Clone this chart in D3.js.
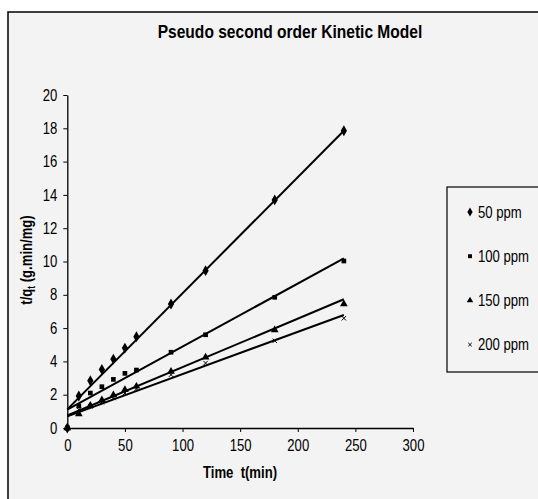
<!DOCTYPE html>
<html>
<head>
<meta charset="utf-8">
<script src="https://cdn.jsdelivr.net/npm/d3@7"></script>
<style>
  body { margin: 0; background: #ffffff; }
  svg { display: block; font-family: "Liberation Sans", Arial, sans-serif; }
</style>
</head>
<body>
<div id="chart"></div>
<script>
// data
const times = [0, 10, 20, 30, 40, 50, 60, 90, 120, 180, 240];
const seriesNames = ["50 ppm", "100 ppm", "150 ppm", "200 ppm"];
const ppm50 = [0, 1.92, 2.84, 3.52, 4.14, 4.8, 5.48, 7.45, 9.45, 13.7, 17.85];
const ppm100 = [0, 1.32, 2.1, 2.48, 2.92, 3.28, 3.48, 4.55, 5.6, 7.85, 10.03];
const ppm150 = [0, 0.84, 1.36, 1.68, 1.98, 2.3, 2.5, 3.4, 4.25, 5.89, 7.45];
const ppm200 = [0, 1.1, 1.3, 1.55, 1.8, 2.1, 2.35, 3.2, 3.9, 5.24, 6.59];
// fitted lines, value at t = 0 and at t = 240
const fitStart = [1.12, 1.1, 0.75, 0.7];
const fitEnd = [17.85, 10.19, 7.73, 6.79];
const fitRange = [0, 240];
const xTicks = [0, 50, 100, 150, 200, 250, 300];
const yTicks = [0, 2, 4, 6, 8, 10, 12, 14, 16, 18, 20];

const allSeries = [ppm50, ppm100, ppm150, ppm200];
const symbols = [d3.symbolDiamond, d3.symbolSquare, d3.symbolTriangle, d3.symbolX];
const symbolSizes = [34, 22, 26, 14];

// the original font is a narrow one, so squeeze the text sideways
const squeeze = 0.82;

const width = 538, height = 499;
const svg = d3.select("#chart").append("svg")
  .attr("width", width).attr("height", height);

// places a squeezed text at (tx, ty)
function addText(parent, tx, ty, str, size, bold, anchor) {
  return parent.append("text")
    .attr("transform", `translate(${tx}, ${ty}) scale(${squeeze}, 1)`)
    .attr("text-anchor", anchor || "start")
    .attr("font-size", size)
    .attr("font-weight", bold ? "bold" : "normal")
    .attr("xml:space", "preserve")
    .text(str);
}

// chart frame (cropped on the right and bottom)
svg.append("rect")
  .attr("x", 8).attr("y", 12)
  .attr("width", width + 10).attr("height", height + 10)
  .attr("fill", "#f3f3f3").attr("stroke", "#000").attr("stroke-width", 1.5);

addText(svg, 290, 38, "Pseudo second order Kinetic Model", 19, true, "middle");

const x = d3.scaleLinear().domain([0, 300]).range([67.3, 413]);
const y = d3.scaleLinear().domain([0, 20]).range([428, 95]);

// axes
const xAxis = svg.append("g")
  .attr("transform", `translate(0, ${y(0)})`)
  .call(d3.axisBottom(x).tickValues(xTicks).tickSize(4).tickPadding(8).tickSizeOuter(0));
const yAxis = svg.append("g")
  .attr("transform", `translate(${x(0)}, 0)`)
  .call(d3.axisLeft(y).tickValues(yTicks).tickSize(4).tickPadding(6).tickSizeOuter(0));

[xAxis, yAxis].forEach(function (g) {
  g.selectAll("path").attr("stroke", "#000").attr("stroke-width", 1.3);
  g.selectAll("line").attr("stroke", "#000");
  g.selectAll("text")
    .attr("font-family", "Liberation Sans, Arial, sans-serif")
    .attr("font-size", 16).attr("fill", "#000");
});
xAxis.selectAll("text").attr("transform", `scale(${squeeze}, 1)`);
// keep the right edge of the y labels where it was before squeezing
yAxis.selectAll("text")
  .attr("x", -10 / squeeze)
  .attr("transform", `scale(${squeeze}, 1)`);

addText(svg, 240, 478, "Time  t(min)", 16, true, "middle");

const yTitle = svg.append("text")
  .attr("transform", `translate(32, 260) rotate(-90) scale(${squeeze}, 1)`)
  .attr("text-anchor", "middle")
  .attr("font-size", 16).attr("font-weight", "bold");
yTitle.append("tspan").text("t/q");
yTitle.append("tspan").attr("font-size", 10).attr("dy", 3).text("t");
yTitle.append("tspan").attr("dy", -3).text(" (g.min/mg)");

// fitted lines
const line = d3.line().x(d => x(d[0])).y(d => y(d[1]));
fitStart.forEach(function (v, i) {
  svg.append("path")
    .datum([[fitRange[0], v], [fitRange[1], fitEnd[i]]])
    .attr("d", line)
    .attr("fill", "none").attr("stroke", "#000").attr("stroke-width", 2);
});

// markers
allSeries.forEach(function (vals, i) {
  svg.append("g").selectAll("path")
    .data(vals.map((v, j) => [times[j], v]))
    .enter().append("path")
    .attr("transform", d => `translate(${x(d[0])}, ${y(d[1])})`)
    .attr("d", d3.symbol().type(symbols[i]).size(symbolSizes[i]))
    .attr("fill", "#000")
    .attr("stroke", i === 3 ? "#000" : "none")
    .attr("stroke-width", 1);
});

// legend
const legend = svg.append("g");
legend.append("rect")
  .attr("x", 447).attr("y", 187)
  .attr("width", 100).attr("height", 185)
  .attr("fill", "#f3f3f3").attr("stroke", "#000").attr("stroke-width", 1.2);
seriesNames.forEach(function (name, i) {
  const ly = 212 + i * 44.2;
  legend.append("path")
    .attr("transform", `translate(470, ${ly})`)
    .attr("d", d3.symbol().type(symbols[i]).size(symbolSizes[i] * 0.7))
    .attr("fill", "#000")
    .attr("stroke", i === 3 ? "#000" : "none");
  addText(legend, 478, ly + 5.5, name, 16, false, "start");
});
</script>
</body>
</html>
